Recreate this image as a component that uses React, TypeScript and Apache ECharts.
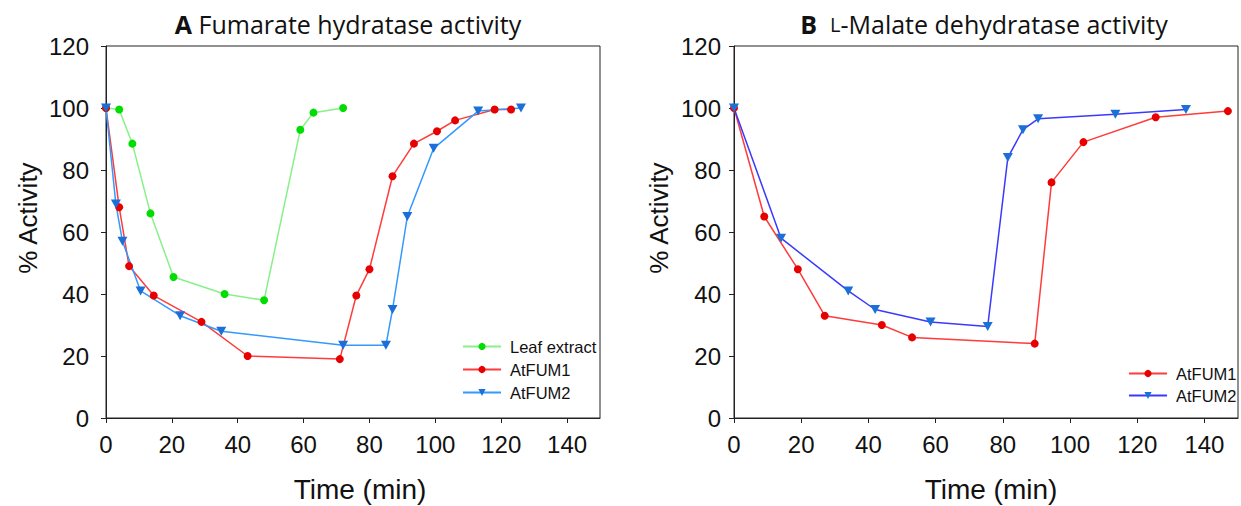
import React, { useEffect, useRef } from "react";
import * as echarts from "echarts";

// ---- Data ----
const xTickValues = [0, 20, 40, 60, 80, 100, 120, 140];

// Panel A: Fumarate hydratase activity
const leafA: [number, number][] = [
  [0, 100], [4, 99.5], [8, 88.5], [13.5, 66], [20.5, 45.5], [36, 40], [48, 38], [59, 93], [63, 98.5], [72, 100],
];
const fum1A: [number, number][] = [
  [0, 100], [4, 68], [7, 49], [14.5, 39.5], [29, 31], [43, 20], [71, 19], [76, 39.5], [80, 48], [87, 78],
  [93.5, 88.5], [100.5, 92.5], [106, 96], [118, 99.5], [123, 99.5],
];
const fum2A: [number, number][] = [
  [0, 100], [3, 69], [5, 57], [10.5, 41], [22.5, 33], [35, 28], [72, 23.5], [85, 23.5], [87, 35], [91.5, 65],
  [99.5, 87], [113, 99], [126, 100],
];

// Panel B: L-Malate dehydratase activity
const fum1B: [number, number][] = [
  [0, 100], [9, 65], [19, 48], [27, 33], [44, 30], [53, 26], [89.5, 24], [94.5, 76], [104, 89], [125.5, 97], [147, 99],
];
const fum2B: [number, number][] = [
  [0, 100], [14, 58], [34, 41], [42, 35], [58.5, 31], [75.5, 29.5], [81.5, 84], [86, 93], [90.5, 96.5], [113.5, 98], [134.5, 99.5],
];

const AX = "Liberation Sans, Arial, sans-serif";
const TITLEF = "Open Sans, Lato, sans-serif";
const DOWN_TRI = "path://M0,0 L10,0 L5,9 Z";

const GREEN_M = "#00dd00";
const GREEN_L = "#88f088";
const RED_M = "#e60000";
const RED_L = "#ff3b3b";
const BLUE_M = "#1a6fd8";
const BLUE_LA = "#3399ff";
const BLUE_LB = "#3a3aff";

function xAxis(gridIndex: number) {
  return {
    gridIndex,
    type: "value",
    min: 0,
    max: 150,
    interval: 20,
    axisLine: { show: true, onZero: false, lineStyle: { color: "#222", width: 1 } },
    axisTick: { show: true, length: 5, lineStyle: { color: "#222" }, customValues: xTickValues },
    axisLabel: { customValues: xTickValues, fontSize: 24, color: "#111", fontFamily: AX, margin: 14 },
    splitLine: { show: false },
  };
}

function yAxis(gridIndex: number, margin: number) {
  return {
    gridIndex,
    type: "value",
    min: 0,
    max: 120,
    interval: 20,
    axisLine: { show: true, onZero: false, lineStyle: { color: "#222", width: 1 } },
    axisTick: { show: true, length: 5, lineStyle: { color: "#222" } },
    axisLabel: { fontSize: 24, color: "#111", fontFamily: AX, margin },
    splitLine: { show: false },
  };
}

function lineSeries(
  name: string,
  idx: number,
  data: [number, number][],
  markColor: string,
  lineColor: string,
  tri: boolean
) {
  return {
    type: "line",
    name,
    xAxisIndex: idx,
    yAxisIndex: idx,
    data,
    symbol: tri ? DOWN_TRI : "circle",
    symbolSize: tri ? [10, 9] : 8,
    showSymbol: true,
    itemStyle: { color: markColor, borderWidth: 0 },
    lineStyle: { color: lineColor, width: 1.5 },
    emphasis: { disabled: true },
  };
}

export default function App() {
  const ref = useRef<HTMLDivElement>(null);

  useEffect(() => {
    if (!ref.current) return;
    const chart = echarts.init(ref.current, null, { renderer: "svg" });
    const option: any = {
      animation: false,
      backgroundColor: "#ffffff",
      grid: [
        { left: 106, top: 46, width: 494, height: 372, show: true, borderColor: "#222", borderWidth: 1, backgroundColor: "transparent" },
        { left: 734, top: 46, width: 504, height: 372, show: true, borderColor: "#222", borderWidth: 1, backgroundColor: "transparent" },
      ],
      xAxis: [xAxis(0), xAxis(1)],
      yAxis: [yAxis(0, 17), yAxis(1, 13)],
      legend: [
        {
          data: ["Leaf extract", "AtFUM1", "AtFUM2"],
          orient: "vertical",
          left: 462,
          top: 338,
          padding: 0,
          itemWidth: 38,
          itemHeight: 9,
          itemGap: 6,
          textStyle: { fontSize: 16.5, color: "#111", fontFamily: AX, padding: [0, 0, 0, 4] },
          selectedMode: false,
        },
        {
          data: ["AtFUM1 (B)", "AtFUM2 (B)"],
          orient: "vertical",
          left: 1128,
          top: 365,
          padding: 0,
          itemWidth: 38,
          itemHeight: 9,
          itemGap: 5,
          formatter: (n: string) => n.replace(" (B)", ""),
          textStyle: { fontSize: 16.5, color: "#111", fontFamily: AX, padding: [0, 0, 0, 4] },
          selectedMode: false,
        },
      ],
      series: [
        lineSeries("Leaf extract", 0, leafA, GREEN_M, GREEN_L, false),
        lineSeries("AtFUM1", 0, fum1A, RED_M, RED_L, false),
        lineSeries("AtFUM2", 0, fum2A, BLUE_M, BLUE_LA, true),
        lineSeries("AtFUM1 (B)", 1, fum1B, RED_M, RED_L, false),
        lineSeries("AtFUM2 (B)", 1, fum2B, BLUE_M, BLUE_LB, true),
      ],
      graphic: [
        {
          type: "text",
          x: 348,
          y: 24,
          style: {
            text: "{b|A} Fumarate hydratase activity",
            rich: { b: { fontWeight: "bold", fontSize: 25, fontFamily: TITLEF, fill: "#111" } },
            fontSize: 25,
            fontFamily: TITLEF,
            fill: "#111",
            align: "center",
            verticalAlign: "middle",
          },
        },
        {
          type: "text",
          x: 984,
          y: 24,
          style: {
            text: "{b|B}  {s|L}-Malate dehydratase activity",
            rich: {
              b: { fontWeight: "bold", fontSize: 25, fontFamily: TITLEF, fill: "#111" },
              s: { fontSize: 20, fontFamily: TITLEF, fill: "#111" },
            },
            fontSize: 25,
            fontFamily: TITLEF,
            fill: "#111",
            align: "center",
            verticalAlign: "middle",
          },
        },
        {
          type: "text",
          x: 28,
          y: 218,
          rotation: Math.PI / 2,
          style: { text: "% Activity", fontSize: 26, fontFamily: AX, fill: "#111", align: "center", verticalAlign: "middle" },
        },
        {
          type: "text",
          x: 659,
          y: 218,
          rotation: Math.PI / 2,
          style: { text: "% Activity", fontSize: 26, fontFamily: AX, fill: "#111", align: "center", verticalAlign: "middle" },
        },
        {
          type: "text",
          x: 360,
          y: 489,
          style: { text: "Time (min)", fontSize: 28, fontFamily: AX, fill: "#111", align: "center", verticalAlign: "middle" },
        },
        {
          type: "text",
          x: 991,
          y: 489,
          style: { text: "Time (min)", fontSize: 28, fontFamily: AX, fill: "#111", align: "center", verticalAlign: "middle" },
        },
      ],
    };
    chart.setOption(option);
    return () => chart.dispose();
  }, []);

  return (
    <div
      ref={ref}
      style={{ width: 1241, height: 506, position: "absolute", left: 0, top: 0, background: "#fff" }}
    />
  );
}
